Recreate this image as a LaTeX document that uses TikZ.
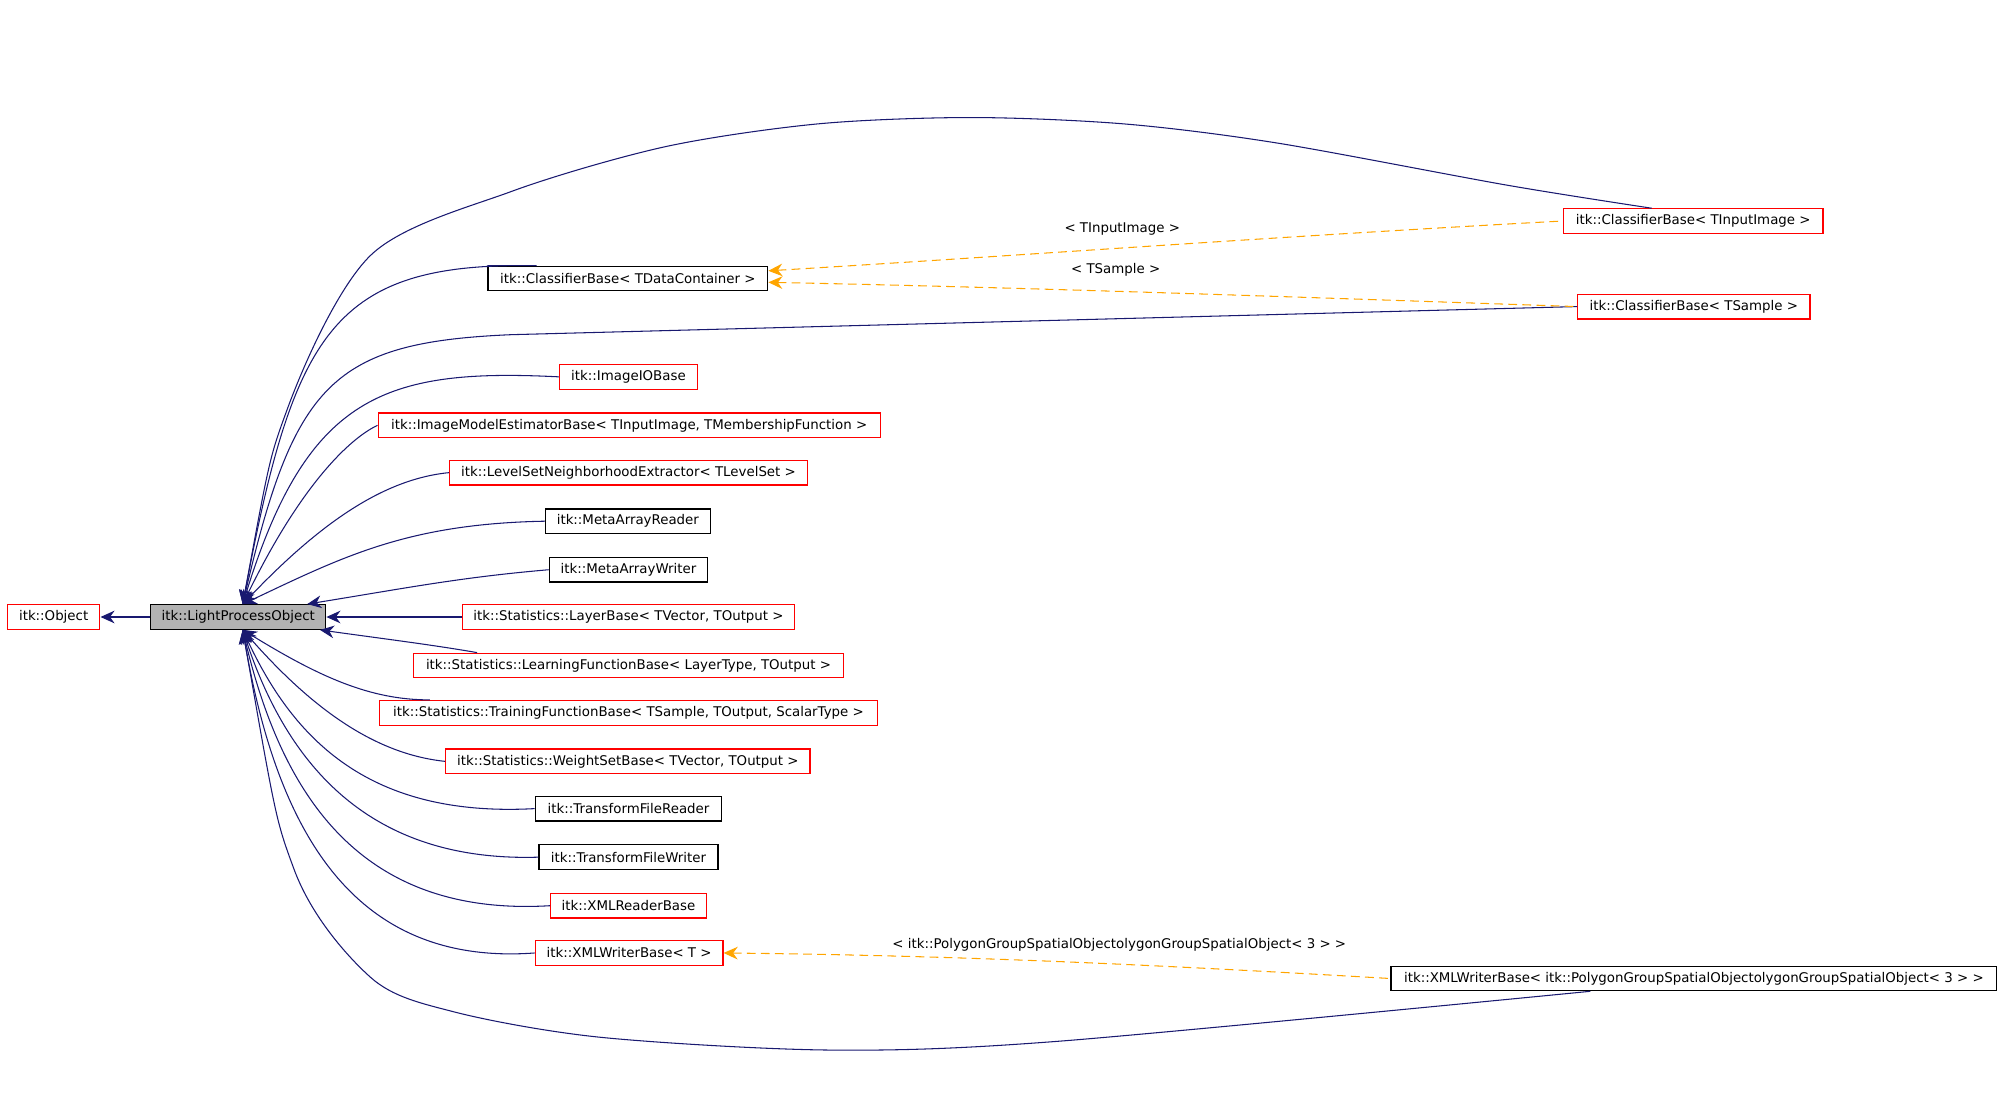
\documentclass[tikz,border=0pt]{standalone}
\usepackage{fontspec}
\setmainfont{DejaVu Sans}
\usetikzlibrary{arrows.meta,calc}
\definecolor{edgeblue}{HTML}{191970}
\definecolor{tmplorange}{HTML}{FFA500}
\tikzset{
  cls/.style={draw=#1, fill=white, line width=0.35pt, inner sep=0pt,
    minimum height=7pt, font=\fontsize{3.8pt}{4.2pt}\selectfont},
  cls/.default=red,
  inh/.style={edgeblue, line width=0.3pt, {Stealth[length=4pt,width=3.6pt]}-},
  tmpl/.style={tmplorange, dashed, dash pattern=on 2.5pt off 1.5pt, line width=0.3pt,
    {Stealth[length=4pt,width=3.6pt]}-},
  lbl/.style={black, font=\fontsize{3.8pt}{4.2pt}\selectfont, inner sep=0.5pt}
}
\begin{document}
\begin{tikzpicture}[x=0.012774cm, y=-0.012774cm]
  \useasboundingbox (0,0) rectangle (1568,873);
  % classes, placed at pixel positions
  \node[cls, minimum width=26.3pt] (obj) at (42,483) {itk::Object};
  \node[cls=black, fill=gray!60, minimum width=49.8pt] (lpo) at (186.5,483) {itk::LightProcessObject};
  \node[cls=black, minimum width=79.6pt] (cdc) at (491.5,218) {itk::ClassifierBase< TDataContainer >};
  \node[cls, minimum width=73.8pt] (cii) at (1325.5,173) {itk::ClassifierBase< TInputImage >};
  \node[cls, minimum width=66.1pt] (cts) at (1326,240) {itk::ClassifierBase< TSample >};
  \node[cls, minimum width=39.3pt] (iio) at (492,295) {itk::ImageIOBase};
  \node[cls, minimum width=142.8pt] (ime) at (492.5,333) {itk::ImageModelEstimatorBase< TInputImage, TMembershipFunction >};
  \node[cls, minimum width=101.8pt] (lsn) at (492,370) {itk::LevelSetNeighborhoodExtractor< TLevelSet >};
  \node[cls=black, minimum width=46.9pt] (mar) at (491.5,408) {itk::MetaArrayReader};
  \node[cls=black, minimum width=45.1pt] (maw) at (492,446) {itk::MetaArrayWriter};
  \node[cls, minimum width=94.5pt] (lyb) at (492,483) {itk::Statistics::LayerBase< TVector, TOutput >};
  \node[cls, minimum width=122.1pt] (lfb) at (492,521) {itk::Statistics::LearningFunctionBase< LayerType, TOutput >};
  \node[cls, minimum width=141.7pt] (tfb) at (492,558) {itk::Statistics::TrainingFunctionBase< TSample, TOutput, ScalarType >};
  \node[cls, minimum width=103.6pt] (wsb) at (491.5,596) {itk::Statistics::WeightSetBase< TVector, TOutput >};
  \node[cls=black, minimum width=53.1pt] (tfr) at (492,633) {itk::TransformFileReader};
  \node[cls=black, minimum width=50.9pt] (tfw) at (492,671) {itk::TransformFileWriter};
  \node[cls, minimum width=44.3pt] (xrb) at (492,709) {itk::XMLReaderBase};
  \node[cls, minimum width=53.4pt] (xwt) at (492.5,746) {itk::XMLWriterBase< T >};
  \node[cls=black, minimum width=172.3pt] (xwp) at (1326,766) {itk::XMLWriterBase< itk::PolygonGroupSpatialObjectolygonGroupSpatialObject< 3 > >};
  % arrow ends on the base class
  \coordinate (ltop) at (190,473);
  \coordinate (lbot) at (190,493);
  \draw[inh] (obj.east) -- (lpo.west);
  \draw[inh] (ltop) plot[smooth] coordinates {(190,473) (225,320) (290,200) (400,150) (520,115) (640,97) (760,92) (880,97) (1000,112) (1180,145) (1293,163)};
  \draw[inh] (ltop) .. controls (230,260) and (260,205) .. (420,208) -- (cdc.north west);
  \draw[inh] (ltop) .. controls (230,300) and (260,268) .. (400,262) -- (cts.west);
  \draw[inh] (ltop) .. controls (240,310) and (300,288) .. (iio.west);
  \draw[inh] (ltop) .. controls (240,370) and (280,340) .. (ime.west);
  \draw[inh] (ltop) .. controls (250,410) and (300,375) .. (lsn.west);
  \draw[inh] (ltop) .. controls (270,435) and (320,410) .. (mar.west);
  \draw[inh] ($(lpo.north east)+(-15,0)$) .. controls (320,460) and (360,452) .. (maw.west);
  \draw[inh] (lpo.east) -- (lyb.west);
  \draw[inh] ($(lpo.south east)+(-5,0)$) .. controls (300,500) and (340,505) .. ($(lfb.north west)+(50,0)$);
  \draw[inh] (lbot) .. controls (250,530) and (290,548) .. ($(tfb.north west)+(40,0)$);
  \draw[inh] (lbot) .. controls (240,550) and (290,590) .. (wsb.west);
  \draw[inh] (lbot) .. controls (230,580) and (290,640) .. (tfr.west);
  \draw[inh] (lbot) .. controls (225,600) and (290,675) .. (tfw.west);
  \draw[inh] (lbot) .. controls (220,620) and (280,718) .. (xrb.west);
  \draw[inh] (lbot) .. controls (215,640) and (270,757) .. (xwt.west);
  \draw[inh] (lbot) plot[smooth] coordinates {(190,493) (230,680) (290,765) (355,792) (470,812) (650,822) (830,815) (1245,776)};
  % template instances
  \draw[tmpl] ($(cdc.east)+(0,-6)$) .. controls (800,200) and (1000,185) .. (cii.west) node[lbl, pos=0.46, above=3pt] {< TInputImage >};
  \draw[tmpl] ($(cdc.east)+(0,3)$) .. controls (800,225) and (1000,232) .. (cts.west) node[lbl, pos=0.45, above=3.5pt] {< TSample >};
  \draw[tmpl] (xwt.east) .. controls (750,748) and (900,755) .. (xwp.west) node[lbl, pos=0.6, above=3pt] {< itk::PolygonGroupSpatialObjectolygonGroupSpatialObject< 3 > >};
\end{tikzpicture}
\end{document}
